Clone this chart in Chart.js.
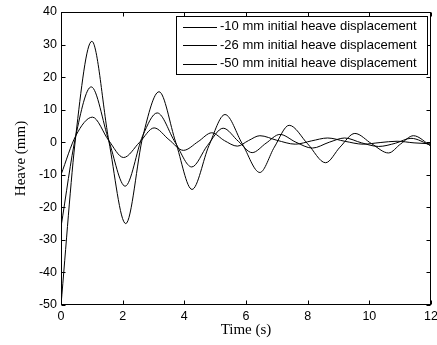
<!DOCTYPE html>
<html><head><meta charset="utf-8">
<script src="https://cdn.jsdelivr.net/npm/chart.js@4/dist/chart.umd.min.js"></script>
<style>html,body{margin:0;padding:0;background:#fff}#wrap{width:437px;height:345px}</style>
</head><body><div id="wrap"><canvas id="c" width="437" height="345"></canvas></div>
<script>
const seriesLabels = ['-10 mm initial heave displacement', '-26 mm initial heave displacement', '-50 mm initial heave displacement'];
const xTitle = 'Time (s)';
const yTitle = 'Heave (mm)';

const t10 = [0, 0.48, 1.02, 1.55, 2.03, 2.55, 3.02, 3.5, 3.97, 4.45, 4.89, 5.3, 5.72, 6.08, 6.45, 7.0, 7.6, 8.12, 8.65, 9.2, 9.8, 10.35, 10.9, 11.45, 12.0];
const v10 = [-10, 2, 7.7, 0.5, -4.7, 0, 4.4, 0.8, -2.5, 0.2, 2.9, 0.5, -1.2, 0.5, 2.0, 0.6, -0.6, 0.4, 1.3, 0.3, -0.6, -0.1, 0.3, -0.2, -0.5];

const t26 = [0, 0.48, 0.98, 1.55, 2.08, 2.65, 3.12, 3.7, 4.24, 4.75, 5.26, 5.75, 6.2, 6.65, 7.1, 7.62, 8.15, 8.7, 9.2, 9.75, 10.3, 10.85, 11.35, 12.0];
const v26 = [-26, 2, 17, 0.5, -13.5, 2, 9, 0, -7.6, -1, 4.3, 0.3, -3.2, -0.3, 2.4, 0, -1.8, 0, 1.3, -0.2, -1.3, -0.3, 1.2, -1.0];

const t50 = [0, 0.48, 1.0, 1.55, 2.1, 2.66, 3.18, 3.72, 4.25, 4.8, 5.32, 5.88, 6.45, 6.92, 7.4, 8.0, 8.58, 9.05, 9.53, 10.08, 10.62, 11.02, 11.43, 12.0];
const v50 = [-50, 2, 31, 0.5, -25, 2, 15.5, 0, -14.5, -1, 8.5, -0.5, -9.3, -1.5, 5.2, -0.5, -6.3, -1.5, 2.7, -0.5, -3.3, -0.5, 2.0, -1.2];

const xTicks = [0, 2, 4, 6, 8, 10, 12];
const yTicks = [-50, -40, -30, -20, -10, 0, 10, 20, 30, 40];

const pts = (ts, vs) => ts.map((t, i) => ({x: t, y: vs[i]}));
const mk = (label, ts, vs) => ({
  label, data: pts(ts, vs), borderColor: '#000', borderWidth: 1,
  pointRadius: 0, fill: false, cubicInterpolationMode: 'monotone'
});

const sansFont = {family: 'Liberation Sans, Arial, sans-serif', size: 12.5};
const serifFont = {family: 'Liberation Serif, Times New Roman, serif', size: 15};

const framePlugin = {
  id: 'frame',
  afterDraw(chart) {
    const {ctx, chartArea: a, scales: {x, y}} = chart;
    const L = Math.round(a.left) + 0.5, R = Math.round(a.right) - 0.5;
    const T = Math.round(a.top) + 0.5, B = Math.round(a.bottom) - 0.5;
    ctx.save();
    ctx.strokeStyle = '#000'; ctx.lineWidth = 1;
    ctx.strokeRect(L, T, R - L, B - T);
    const tl = 4;
    ctx.beginPath();
    xTicks.forEach(v => {
      const p = Math.round(x.getPixelForValue(v)) + 0.5;
      ctx.moveTo(p, B); ctx.lineTo(p, B - tl);
      ctx.moveTo(p, T); ctx.lineTo(p, T + tl);
    });
    yTicks.forEach(v => {
      const p = Math.round(y.getPixelForValue(v)) + 0.5;
      ctx.moveTo(L, p); ctx.lineTo(L + tl, p);
      ctx.moveTo(R, p); ctx.lineTo(R - tl, p);
    });
    ctx.stroke();
    // legend box
    const bx = 176.5, by = 16.5, bw = 251, bh = 58;
    ctx.fillStyle = '#fff';
    ctx.fillRect(bx, by, bw, bh);
    ctx.strokeRect(bx, by, bw, bh);
    ctx.font = '13px "Liberation Sans", Arial, sans-serif';
    ctx.textBaseline = 'middle';
    ctx.fillStyle = '#000';
    chart.data.datasets.forEach((ds, i) => {
      const ry = 26.5 + i * 18.5;
      ctx.beginPath();
      ctx.moveTo(183, Math.round(ry) + 0.5); ctx.lineTo(217, Math.round(ry) + 0.5);
      ctx.stroke();
      ctx.fillText(ds.label, 220, ry);
    });
    ctx.restore();
  }
};

new Chart(document.getElementById('c'), {
  type: 'line',
  data: {datasets: [mk(seriesLabels[0], t10, v10), mk(seriesLabels[1], t26, v26), mk(seriesLabels[2], t50, v50)]},
  options: {
    responsive: false, animation: false, devicePixelRatio: 1,
    layout: {padding: {left: 0, right: 0, top: 12, bottom: 0}},
    plugins: {legend: {display: false}, tooltip: {enabled: false}},
    scales: {
      x: {
        type: 'linear', min: 0, max: 12,
        afterBuildTicks: s => { s.ticks = xTicks.map(v => ({value: v})); },
        afterFit: s => { s.height = 40; s.paddingRight = 6; },
        grid: {display: false, drawTicks: false}, border: {display: false},
        ticks: {color: '#000', font: sansFont, padding: 4, maxRotation: 0},
        title: {display: true, text: xTitle, color: '#000', font: serifFont, padding: {top: 0, bottom: 6}}
      },
      y: {
        type: 'linear', min: -50, max: 40,
        afterBuildTicks: s => { s.ticks = yTicks.map(v => ({value: v})); },
        afterFit: s => { s.width = 61; },
        grid: {display: false, drawTicks: false}, border: {display: false},
        ticks: {color: '#000', font: sansFont, padding: 4},
        title: {display: true, text: yTitle, color: '#000', font: serifFont, padding: {top: 12, bottom: 0}}
      }
    }
  },
  plugins: [framePlugin]
});
</script>
</body></html>
